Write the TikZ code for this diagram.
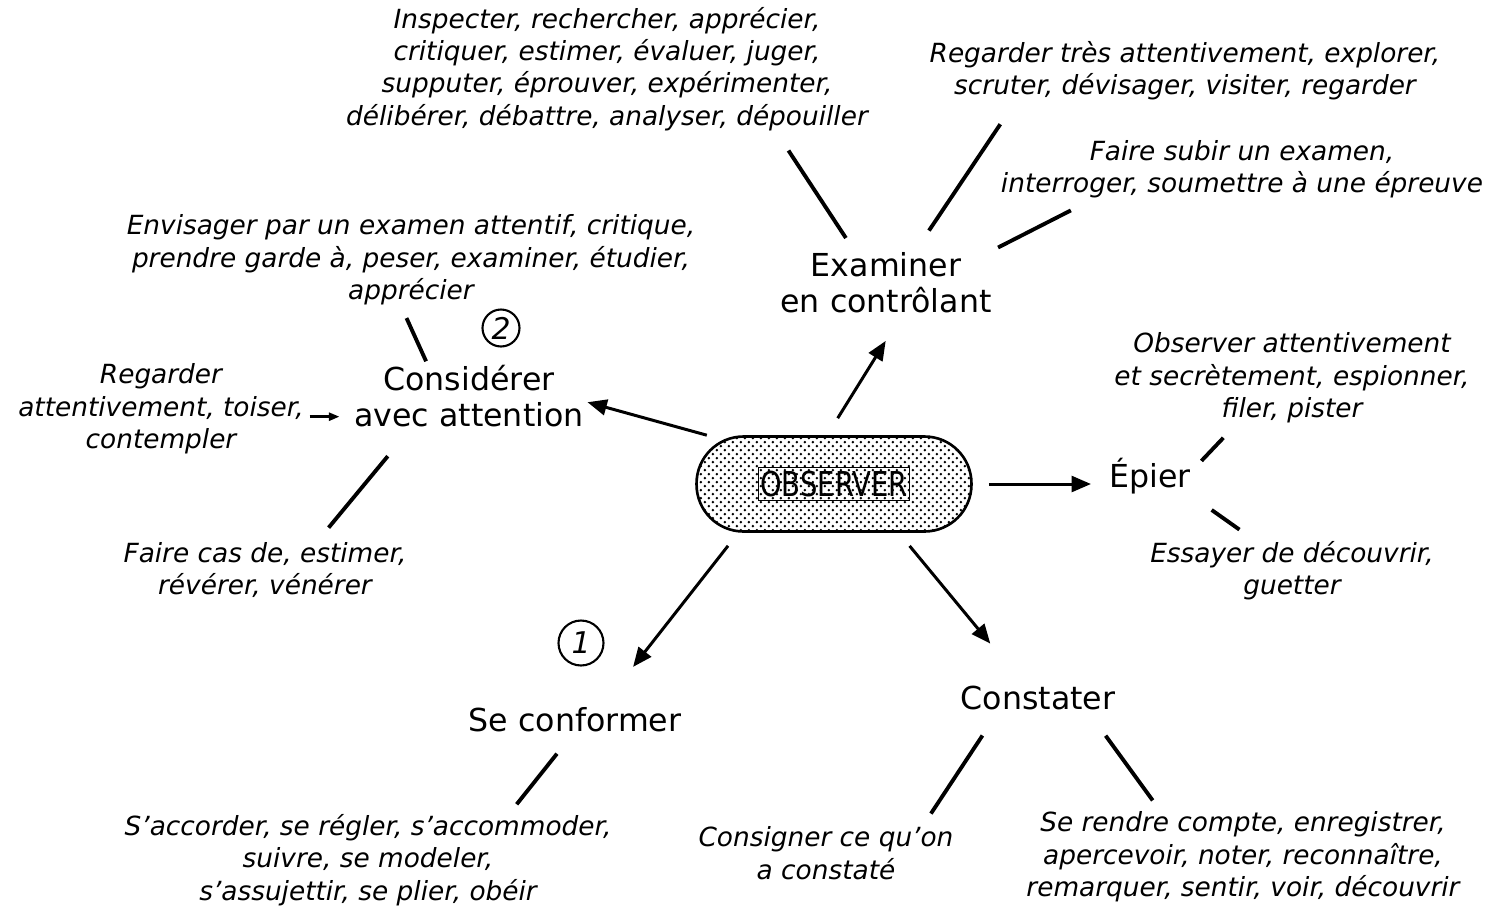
\documentclass[tikz,border=0pt]{standalone}
\usepackage{fontspec}
\setmainfont{DejaVu Sans}
\usepackage{graphicx}
\usetikzlibrary{arrows.meta,patterns}

\pgfdeclarepatternformonly{obsdots}{\pgfpointorigin}{\pgfpoint{4.5pt}{4.5pt}}{\pgfpoint{4.5pt}{4.5pt}}%
  {\pgfpathcircle{\pgfpoint{1.1pt}{1.1pt}}{0.8pt}\pgfpathcircle{\pgfpoint{3.35pt}{3.35pt}}{0.8pt}\pgfusepath{fill}}

\begin{document}
\begin{tikzpicture}[x=0.02cm,y=-0.02cm,
    gloss/.style={font=\fontsize{15}{18.4}\selectfont\itshape,align=center,inner sep=2pt},
    verb/.style={font=\fontsize{18}{20.5}\selectfont,align=center,inner sep=2pt},
    link/.style={line width=2.2pt},
    flow/.style={line width=1.7pt,-{Triangle[length=11pt,width=9pt]}},
    num/.style={circle,draw,line width=1.2pt,inner sep=0pt,font=\fontsize{17}{17}\selectfont\itshape}]

  \useasboundingbox (0,0) rectangle (1502,907);

  \node[rectangle,rounded corners=0.94cm,draw,line width=1.5pt,pattern=obsdots,
    minimum width=5.5cm,minimum height=1.9cm] (observer) at (834,484) {};
  \node[draw,line width=0.6pt,inner xsep=1pt,inner ysep=2pt] (observerLbl) at (observer)
    {\scalebox{0.8}[1]{\fontsize{19.5}{20}\selectfont OBSERVER}};

  \node[gloss] (inspecter) at (607,69) {Inspecter, rechercher, apprécier,\\critiquer, estimer, évaluer, juger,\\supputer, éprouver, expérimenter,\\délibérer, débattre, analyser, dépouiller};
  \node[gloss] (regarderTres) at (1185,71) {Regarder très attentivement, explorer,\\scruter, dévisager, visiter, regarder};
  \node[gloss] (faireSubir) at (1242,169) {Faire subir un examen,\\interroger, soumettre à une épreuve};
  \node[verb] (examiner) at (886,283) {Examiner\\en contrôlant};

  \node[gloss] (envisager) at (411,260) {Envisager par un examen attentif, critique,\\prendre garde à, peser, examiner, étudier,\\apprécier};
  \node[num,minimum size=0.74cm] (numDeux) at (501,328) {2};
  \node[verb] (considerer) at (469,396) {Considérer\\avec attention};
  \node[gloss] (regarderAtt) at (161,409) {Regarder\\attentivement, toiser,\\contempler};
  \node[gloss] (faireCas) at (265,570) {Faire cas de, estimer,\\révérer, vénérer};

  \node[verb] (epier) at (1150,476) {Épier};
  \node[gloss] (observerAtt) at (1292,378) {Observer attentivement\\et secrètement, espionner,\\filer, pister};
  \node[gloss] (essayer) at (1292,571) {Essayer de découvrir,\\guetter};

  \node[num,minimum size=0.9cm] (numUn) at (581,643) {1};
  \node[verb] (conformer) at (575,720) {Se conformer};
  \node[gloss] (accorder) at (368,860) {S’accorder, se régler, s’accommoder,\\suivre, se modeler,\\s’assujettir, se plier, obéir};

  \node[verb] (constater) at (1038,698) {Constater};
  \node[gloss] (consigner) at (826,853) {Consigner ce qu’on\\a constaté};
  \node[gloss] (rendreCompte) at (1243,857) {Se rendre compte, enregistrer,\\apercevoir, noter, reconnaître,\\remarquer, sentir, voir, découvrir};

  % arrows out of OBSERVER
  \draw[flow,shorten <=0.4cm,shorten >=0.56cm] (observer.98) -- (examiner.-67);
  \draw[flow] (observer.159) -- (considerer.-3);
  \draw[flow,shorten <=0.32cm,shorten >=0.29cm] (observer.east) -- (observer.east -| epier.west);
  \draw[flow,shorten <=0.33cm,shorten >=0.94cm] (observer.207) -- (conformer.29);
  \draw[flow,shorten <=0.34cm,shorten >=1.0cm] (observer.323) -- (constater.135);
  \draw[line width=1.4pt,-{Triangle[length=6pt,width=4.5pt]},shorten <=0.04cm,shorten >=0.22cm]
    (regarderAtt.-3) -- (regarderAtt.-3 -| considerer.west);

  \draw[link,shorten <=0.26cm,shorten >=0.38cm] (examiner.134) -- (inspecter.-21);
  \draw[link,shorten <=0.44cm,shorten >=0.48cm] (examiner.48) -- (regarderTres.191);
  \draw[link,shorten <=0.06cm,shorten >=0.38cm] (examiner.north east) -- (faireSubir.192);
  \draw[link,shorten >=0.2cm] (considerer.141) -- (envisager.260);
  \draw[link,shorten <=0.66cm,shorten >=0.28cm] (considerer.210) -- (faireCas.30);
  \draw[link,shorten <=0.2cm,shorten >=0.3cm] (epier.10) -- (observerAtt.220);
  \draw[link,shorten <=0.42cm,shorten >=0.28cm] (epier.south east) -- (essayer.141);
  \draw[link,shorten <=0.45cm,shorten >=0.16cm] (conformer.256) -- (accorder.19);
  \draw[link,shorten <=0.52cm,shorten >=0.22cm] (constater.201) -- (consigner.17);
  \draw[link,shorten <=0.54cm,shorten >=0.19cm] (constater.-17) -- (rendreCompte.150);

\end{tikzpicture}
\end{document}
